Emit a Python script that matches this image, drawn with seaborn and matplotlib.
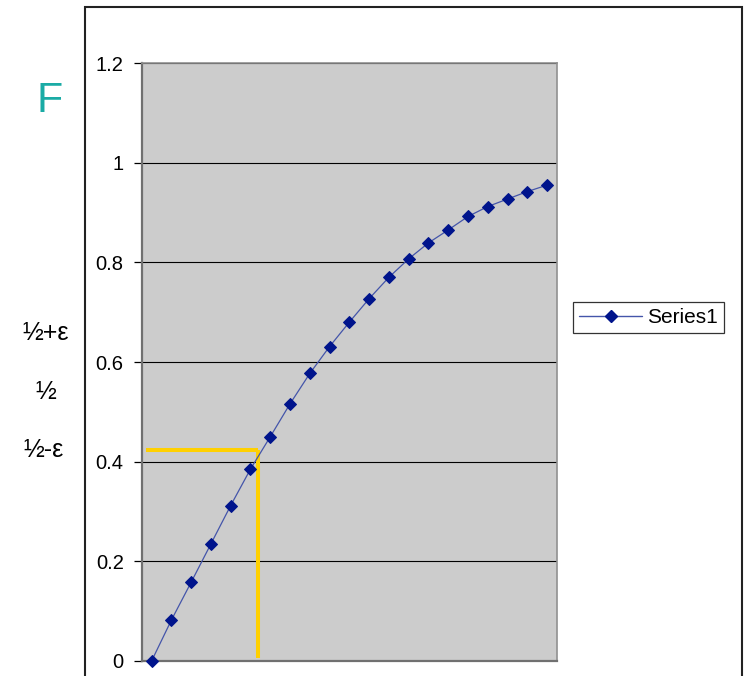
import matplotlib
matplotlib.use("Agg")
import matplotlib.pyplot as plt
import pandas as pd
import seaborn as sns
from matplotlib.lines import Line2D
from matplotlib.patches import Rectangle

# Cumulative value F at each step
step = list(range(1, 22))
f_values = [0.0, 0.082, 0.158, 0.235, 0.312, 0.385, 0.450, 0.516, 0.577, 0.631,
            0.680, 0.727, 0.770, 0.807, 0.839, 0.865, 0.892, 0.912, 0.927, 0.942, 0.955]
y_ticks = [0, 0.2, 0.4, 0.6, 0.8, 1.0, 1.2]
y_tick_labels = ["0", "0.2", "0.4", "0.6", "0.8", "1", "1.2"]
side_labels = ["½+ε", "½", "½-ε"]
series_name = "Series1"
threshold_level = 0.423
threshold_step = 6.37
threshold_start = 0.72

sns.set_theme(style="white")
plt.rcParams["font.family"] = ["Liberation Sans", "DejaVu Sans"]
plt.rcParams["text.color"] = "black"

W, H = 745, 676
fig = plt.figure(figsize=(W / 100, H / 100), dpi=100)
fig.patch.set_facecolor("white")

ax = fig.add_axes([141.7 / W, 15 / H, (557 - 141.7) / W, 598 / H])
ax.set_facecolor("#CCCCCC")

line_color = "#4455AA"
marker_color = "#00148C"

df = pd.DataFrame({"step": step, "F": f_values})
sns.lineplot(data=df, x="step", y="F", ax=ax, color=line_color, linewidth=0.9,
             marker="D", markersize=6.0, markerfacecolor=marker_color,
             markeredgecolor=marker_color, legend=False, clip_on=False, zorder=4)

# Threshold guide
gold = "#FFD000"
ax.plot([threshold_start, threshold_step], [threshold_level, threshold_level],
        color=gold, linewidth=2.9, solid_capstyle="butt", zorder=3)
ax.plot([threshold_step, threshold_step], [threshold_level, 0.007],
        color=gold, linewidth=2.9, solid_capstyle="butt", zorder=3)

ax.set_xlim(0.5, 21.5)
ax.set_ylim(0, 1.2)
ax.set_xticks([])
ax.set_yticks(y_ticks)
ax.set_yticklabels(y_tick_labels)
ax.set_xlabel("")
ax.set_ylabel("")
ax.yaxis.grid(True, color="black", linewidth=0.8)
ax.xaxis.grid(False)
ax.set_axisbelow(True)
ax.tick_params(axis="y", direction="out", length=6, width=0.9, color="black",
               labelcolor="black", labelsize=14.5, pad=7, left=True)

for side in ["left", "bottom"]:
    ax.spines[side].set_color("#707070")
    ax.spines[side].set_linewidth(1.6)
for side in ["top", "right"]:
    ax.spines[side].set_color("#909090")
    ax.spines[side].set_linewidth(1.2)

# Outer chart frame
fig.add_artist(Rectangle((85 / W, -0.1), (742 - 85) / W, 1 - 7 / H + 0.1,
                         transform=fig.transFigure, fill=False,
                         edgecolor="#222222", linewidth=1.5))

# Legend
handle = Line2D([], [], color=line_color, linewidth=1.0, marker="D", markersize=6.0,
                markerfacecolor=marker_color, markeredgecolor=marker_color)
leg = fig.legend(handles=[handle], labels=[series_name], loc="center",
                 bbox_to_anchor=((576 + 721) / 2 / W, 1 - (299 + 336) / 2 / H),
                 frameon=True, fancybox=False, fontsize=15, handlelength=3.0,
                 borderpad=0.3, handletextpad=0.25, borderaxespad=0,
                 labelcolor="black")
leg.get_frame().set_edgecolor("black")
leg.get_frame().set_linewidth(0.9)

# Side annotations
fig.text(50 / W, 1 - 101 / H, "F", ha="center", va="center", fontsize=31,
         color="#1AABA5")
side_pos = [(46, 333), (46, 392), (43, 450)]
for (x, y), txt in zip(side_pos, side_labels):
    fig.text(x / W, 1 - y / H, txt, ha="center", va="center", fontsize=18,
             color="black")

fig.savefig("out.png", dpi=100)
